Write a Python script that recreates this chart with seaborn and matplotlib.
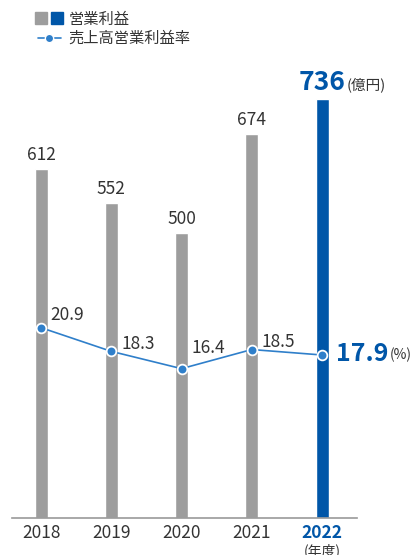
import matplotlib
matplotlib.use("Agg")
import matplotlib.pyplot as plt
import numpy as np
import pandas as pd
import seaborn as sns
from matplotlib.lines import Line2D
from matplotlib.legend_handler import HandlerTuple

years = ["2018", "2019", "2020", "2021", "2022"]
profit = [612, 552, 500, 674, 736]          # 営業利益 (億円)
margin = [20.9, 18.3, 16.4, 18.5, 17.9]      # 売上高営業利益率 (%)

GRAY = "#9d9d9d"
BLUE = "#0056a8"
LINE_BLUE = "#2f7fca"
TXT = "#333333"

sns.set_theme(style="white")
plt.rcParams["font.family"] = ["Noto Sans CJK JP", "DejaVu Sans"]

fig = plt.figure(figsize=(4.18, 5.55), dpi=100)
ax = fig.add_axes([12 / 418, 37 / 555, 345 / 418, 428 / 555])

df = pd.DataFrame({"year": years, "profit": profit})
sns.barplot(data=df, x="year", y="profit", hue="year",
            palette=[GRAY, GRAY, GRAY, GRAY, BLUE], width=0.185,
            legend=False, ax=ax, saturation=1)
ax.set_xlim(-0.413, 4.498)
ax.set_ylim(0, 751)
ax.set_xlabel("")
ax.set_ylabel("")
ax.set_yticks([])
for s in ["top", "right", "left"]:
    ax.spines[s].set_visible(False)
ax.spines["bottom"].set_color("#999999")
ax.spines["bottom"].set_linewidth(1.2)
ax.tick_params(axis="x", length=0, pad=4)
ax.set_xticks(range(len(years)))
ax.set_xticklabels(years, fontsize=12.5, color=TXT)
lbl = ax.get_xticklabels()[-1]
lbl.set_color(BLUE)
lbl.set_fontweight("bold")
ax.text(4, -44, "(年度)", ha="center", va="top", fontsize=10, color=TXT)

# bar value labels
for i, v in enumerate(profit[:-1]):
    ax.annotate(f"{v}", (i, v), xytext=(0, 5), textcoords="offset pixels",
                ha="center", va="bottom", fontsize=12.5, color=TXT)
ax.annotate(f"{profit[-1]}", (4, profit[-1]), xytext=(0, 3), textcoords="offset pixels",
            ha="center", va="bottom", fontsize=19, color=BLUE, fontweight="semibold")
ax.annotate("(億円)", (4, profit[-1]), xytext=(25, 6), textcoords="offset pixels",
            ha="left", va="bottom", fontsize=10.5, color=TXT)

# margin line
ax2 = ax.twinx()
ax2.set_ylim(0, 47.0)
ax2.set_yticks([])
for s in ["top", "right", "left", "bottom"]:
    ax2.spines[s].set_visible(False)
mdf = pd.DataFrame({"x": range(len(years)), "margin": margin})
sns.lineplot(data=mdf, x="x", y="margin", ax=ax2, color=LINE_BLUE, linewidth=1.2,
             marker="o", markersize=7, markerfacecolor=LINE_BLUE,
             markeredgecolor="white", markeredgewidth=1.3)
ax2.set_xlabel("")
ax2.set_ylabel("")

offsets = [(9, 13), (10, 7), (10, 21), (10, 8)]
for i, v in enumerate(margin[:-1]):
    ax2.annotate(f"{v}", (i, v), xytext=offsets[i], textcoords="offset pixels",
                 ha="left", va="center", fontsize=12.5, color=TXT)
ax2.annotate(f"{margin[-1]}", (4, margin[-1]), xytext=(14, 1), textcoords="offset pixels",
             ha="left", va="center", fontsize=18, color=BLUE, fontweight="semibold")
ax2.annotate("(%)", (4, margin[-1]), xytext=(68, 0), textcoords="offset pixels",
             ha="left", va="center", fontsize=10, color=TXT)

# legend
sq_g = Line2D([], [], marker="s", color=GRAY, linestyle="none", markersize=8)
sq_b = Line2D([], [], marker="s", color=BLUE, linestyle="none", markersize=8)
ln = Line2D([], [], color=LINE_BLUE, linewidth=1.2, marker="o", markersize=6,
            markerfacecolor=LINE_BLUE, markeredgecolor="white", markeredgewidth=1)
fig.legend([(sq_g, sq_b), ln], ["営業利益", "売上高営業利益率"],
           handler_map={tuple: HandlerTuple(ndivide=None, pad=0.5)},
           loc="upper left", bbox_to_anchor=(30 / 418, 1 - 3 / 555),
           frameon=False, fontsize=11, handlelength=1.5, handletextpad=0.5,
           labelspacing=0.15, borderpad=0, labelcolor=TXT)

fig.savefig("out.png", dpi=100)
